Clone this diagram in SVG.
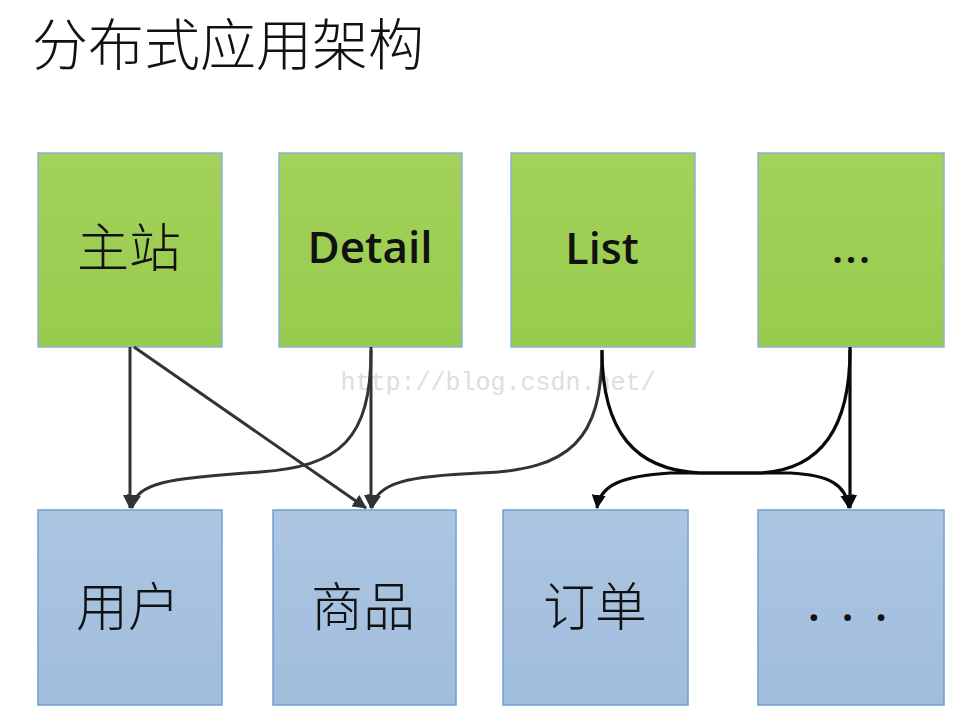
<svg xmlns="http://www.w3.org/2000/svg" width="976" height="720" viewBox="0 0 976 720">
<style>
.top{stroke:#8fb0d8;stroke-width:1.5;fill:url(#g)}
.bot{stroke:#6f9fd6;stroke-width:1.5;fill:url(#b)}
.cjk{font-family:"Noto Sans CJK SC","Noto Sans",sans-serif;font-weight:300;fill:#111;text-anchor:middle}
.lat{font-family:"Open Sans","Liberation Sans",sans-serif;font-weight:600;fill:#111;text-anchor:middle}
.ln{fill:none;stroke:#333;stroke-width:3}
.lk{fill:none;stroke:#0a0a0a;stroke-width:3.2}
</style>
<defs>
<linearGradient id="g" x1="0" y1="0" x2="0" y2="1"><stop offset="0" stop-color="#a3d25a"/><stop offset="1" stop-color="#97cb4d"/></linearGradient>
<linearGradient id="b" x1="0" y1="0" x2="0" y2="1"><stop offset="0" stop-color="#acc6e2"/><stop offset="1" stop-color="#a0bddc"/></linearGradient>
<marker id="ag" viewBox="0 0 14 14" refX="13" refY="7" markerWidth="14" markerHeight="14" markerUnits="userSpaceOnUse" orient="auto"><path d="M0,0 L14,7 L0,14 Z" fill="#333"/></marker>
<marker id="ak" viewBox="0 0 14 14" refX="13" refY="7" markerWidth="14" markerHeight="14" markerUnits="userSpaceOnUse" orient="auto"><path d="M0,0 L14,7 L0,14 Z" fill="#0a0a0a"/></marker>
</defs>
<rect width="976" height="720" fill="#fff"/>
<text x="32" y="65" font-size="56" class="cjk" style="text-anchor:start">分布式应用架构</text>
<text x="498" y="390" font-family="'Liberation Mono',monospace" font-size="25" fill="#dedede" text-anchor="middle">http://blog.csdn.net/</text>
<g id="n-zhuzhan"><rect class="top" x="38" y="153" width="184" height="194"/><text x="129" y="267" font-size="52" class="cjk">主站</text></g>
<g id="n-detail"><rect class="top" x="279" y="153" width="183" height="194"/><text x="370" y="263" font-size="44" class="lat">Detail</text></g>
<g id="n-list"><rect class="top" x="511" y="153" width="184" height="194"/><text x="602" y="264" font-size="43" class="lat">List</text></g>
<g id="n-more1"><rect class="top" x="758" y="153" width="186" height="194"/><text x="852" y="263" font-size="42" class="lat" letter-spacing="2">...</text></g>
<g id="n-yonghu"><rect class="bot" x="38" y="510" width="184" height="195"/><text x="128" y="626" font-size="52" class="cjk">用户</text></g>
<g id="n-shangpin"><rect class="bot" x="273" y="510" width="183" height="195"/><text x="363" y="626" font-size="52" class="cjk">商品</text></g>
<g id="n-dingdan"><rect class="bot" x="503" y="510" width="185" height="195"/><text x="595" y="626" font-size="52" class="cjk">订单</text></g>
<g id="n-more2"><rect class="bot" x="758" y="510" width="186" height="195"/><text x="858" y="621" font-size="46" class="lat" letter-spacing="21">...</text></g>
<g id="connectors">
<path class="ln" d="M130,347 L130,508" marker-end="url(#ag)"/>
<path class="ln" d="M134,347 L366,508" marker-end="url(#ag)"/>
<path class="ln" d="M371,347 L371,508" marker-end="url(#ag)"/>
<path class="ln" d="M371,350 C371,440 340,466 260,472 C170,478 136,482 132,508" marker-end="url(#ag)"/>
<path class="ln" d="M602,350 C602,440 570,470 480,473 C410,476 376,482 372,508" marker-end="url(#ag)"/>
<path class="lk" d="M602,350 C602,432 635,470 700,473 L790,473 C830,475 846,485 849,508" marker-end="url(#ak)"/>
<path class="lk" d="M850,347 L850,508" marker-end="url(#ak)"/>
<path class="lk" d="M850,350 C850,432 818,470 760,473 L670,473 C622,476 600,485 597,508" marker-end="url(#ak)"/>
</g>
</svg>
